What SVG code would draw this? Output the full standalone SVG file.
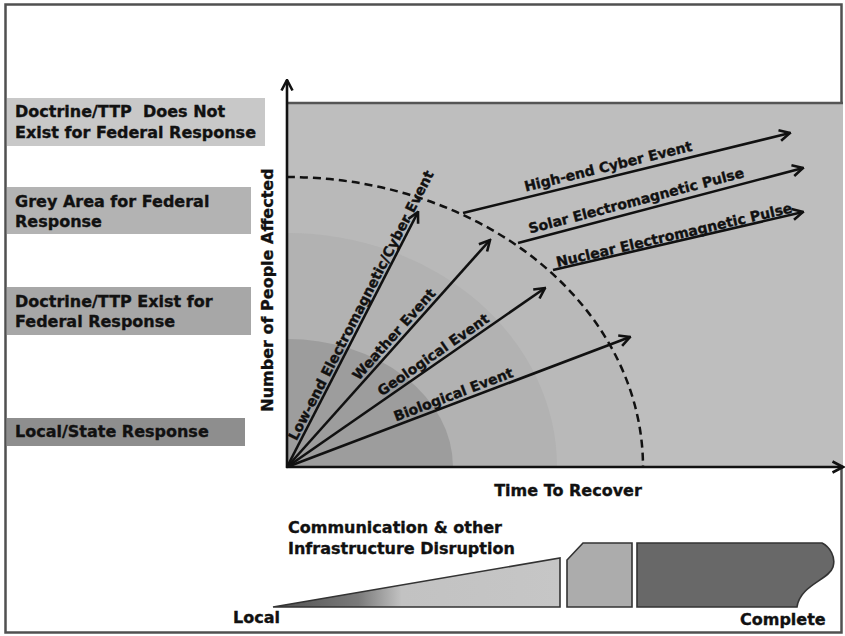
<svg xmlns="http://www.w3.org/2000/svg" width="845" height="636" viewBox="0 0 845 636">
<style>
.t{font-family:"DejaVu Sans","Liberation Sans",sans-serif;font-weight:bold;fill:#111;stroke:#111;stroke-width:0.35;}
.lbl{font-size:16px;}
.ev{font-size:14px;}
.ax{stroke:#111;stroke-width:2.6;fill:none;}
.arr{stroke:#111;stroke-width:2.6;fill:none;marker-end:url(#ah);}
.shape{stroke:#333;stroke-width:1.6;}
</style>
<defs>
<marker id="ah" viewBox="0 0 14 14" refX="12.5" refY="7" markerWidth="14" markerHeight="14" markerUnits="userSpaceOnUse" orient="auto">
<path d="M2,1.5 L12.5,7 L2,12.5" fill="none" stroke="#111" stroke-width="2.6" stroke-linejoin="miter"/>
</marker>
<linearGradient id="wedge" gradientUnits="userSpaceOnUse" x1="272" y1="0" x2="560" y2="0">
<stop offset="0" stop-color="#505050"/>
<stop offset="0.3" stop-color="#7a7a7a"/>
<stop offset="0.45" stop-color="#c2c2c2"/>
<stop offset="1" stop-color="#c6c6c6"/>
</linearGradient>
</defs>
<rect x="0" y="0" width="845" height="636" fill="#ffffff"/>
<rect x="5.5" y="4.5" width="836" height="628" fill="#ffffff" stroke="#505050" stroke-width="2.5"/>

<g id="plot">
<rect x="287" y="103" width="556" height="364" fill="#bebebe"/>
<path d="M287,467 L287,177 A356,290 0 0 1 643,467 Z" fill="#b9b9b9"/>
<path d="M287,467 L287,233 A270,234 0 0 1 557,467 Z" fill="#b2b2b2"/>
<path d="M287,467 L287,339 A166,128 0 0 1 453,467 Z" fill="#9d9d9d"/>
<line x1="287" y1="103" x2="843" y2="103" stroke="#555" stroke-width="2.5"/>
<path d="M287,177 A356,290 0 0 1 643,467" fill="none" stroke="#111" stroke-width="2.5" stroke-dasharray="8,5"/>
</g>

<g id="axes">
<line class="ax" x1="287" y1="468" x2="287" y2="80" marker-end="url(#ah)"/>
<line class="ax" x1="286" y1="467" x2="843" y2="467" marker-end="url(#ah)"/>
<text class="t lbl" transform="translate(273,290) rotate(-90)" text-anchor="middle">Number of People Affected</text>
<text class="t lbl" x="568" y="496" text-anchor="middle">Time To Recover</text>
</g>

<g id="connectors">
<line class="arr" x1="287" y1="467" x2="418" y2="212"/>
<line class="arr" x1="287" y1="467" x2="490" y2="240"/>
<line class="arr" x1="287" y1="467" x2="545" y2="288"/>
<line class="arr" x1="287" y1="467" x2="630" y2="337"/>
<line class="arr" x1="463" y1="213" x2="790" y2="133"/>
<line class="arr" x1="518" y1="243" x2="803" y2="168"/>
<line class="arr" x1="553" y1="270" x2="803" y2="212"/>
</g>

<g id="event-labels">
<text id="lbl-lowend" class="t ev" transform="translate(296.5,441.5) rotate(-62.8)">Low-end Electromagnetic/Cyber Event</text>
<text id="lbl-weather" class="t ev" transform="translate(358.7,380.9) rotate(-48.2)">Weather Event</text>
<text id="lbl-geo" class="t ev" transform="translate(381.7,396.4) rotate(-34.8)">Geological Event</text>
<text id="lbl-bio" class="t ev" transform="translate(395.9,421.5) rotate(-20.8)">Biological Event</text>
<text id="lbl-highend" class="t ev" transform="translate(525.7,191.5) rotate(-13.75)">High-end Cyber Event</text>
<text id="lbl-solar" class="t ev" transform="translate(530,233.6) rotate(-14.74)">Solar Electromagnetic Pulse</text>
<text id="lbl-nuclear" class="t ev" transform="translate(557.4,267) rotate(-13.06)">Nuclear Electromagnetic Pulse</text>
</g>

<g id="box-not-exist">
<rect x="7" y="98" width="258" height="48" fill="#c8c8c8"/>
<text class="t lbl" x="15" y="117" xml:space="preserve">Doctrine/TTP  Does Not</text>
<text class="t lbl" x="15" y="138">Exist for Federal Response</text>
</g>
<g id="box-grey-area">
<rect x="7" y="187" width="244" height="47" fill="#b3b3b3"/>
<text class="t lbl" x="15" y="207">Grey Area for Federal</text>
<text class="t lbl" x="15" y="227">Response</text>
</g>
<g id="box-exist">
<rect x="7" y="287" width="244" height="48" fill="#a7a7a7"/>
<text class="t lbl" x="15" y="307">Doctrine/TTP Exist for</text>
<text class="t lbl" x="15" y="327">Federal Response</text>
</g>
<g id="box-local-state">
<rect x="7" y="418" width="238" height="28" fill="#8e8e8e"/>
<text class="t lbl" x="15" y="437">Local/State Response</text>
</g>

<g id="disruption">
<text class="t lbl" x="288" y="533">Communication &amp; other</text>
<text class="t lbl" x="288" y="554">Infrastructure Disruption</text>
<polygon class="shape" points="273,607 560,558 560,607" fill="url(#wedge)"/>
<polygon class="shape" points="567,607 567,560 583,543 632,543 632,607" fill="#acacac"/>
<path class="shape" d="M637,543 L822,543 C830,547 836,557 833,567 C829,580 800,585 797,607 L637,607 Z" fill="#686868"/>
<text class="t lbl" x="233" y="623">Local</text>
<text class="t lbl" x="740" y="625">Complete</text>
</g>
</svg>
